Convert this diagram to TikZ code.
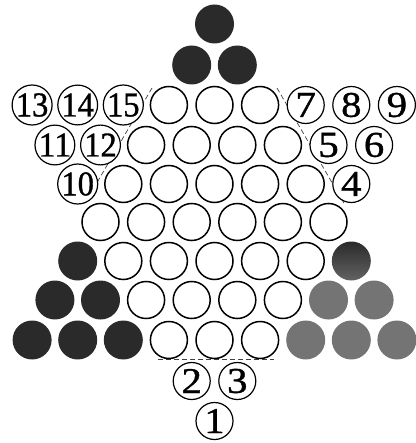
\documentclass[tikz,border=0pt]{standalone}
\usepackage{fontspec}
\setmainfont{Liberation Serif}
\newfontfamily\numfont[FakeBold=1]{Liberation Serif}
\definecolor{blk}{HTML}{2A2A2A}
\definecolor{gry}{HTML}{747474}
\newcommand{\dg}[1]{\resizebox{32.5pt}{23pt}{#1}}
\newcommand{\sg}[1]{\resizebox{!}{24pt}{\scalebox{1.12}[1]{#1}}}
\begin{document}
\begin{tikzpicture}[x=1pt,y=-1pt,
  emp/.style={circle,draw=black,line width=1.5pt,fill=white,minimum size=37pt,inner sep=0pt},
  num/.style={circle,draw=black,line width=1.2pt,fill=white,minimum size=37pt,inner sep=0pt,font=\numfont},
  dk/.style={circle,fill=blk,minimum size=39pt,inner sep=0pt},
  gr/.style={circle,fill=gry,minimum size=39pt,inner sep=0pt},
  sh/.style={circle,top color=blk,bottom color=gry!85!black,minimum size=39pt,inner sep=0pt},
  edge/.style={draw=black!75,line width=0.7pt,dash pattern=on 5pt off 3pt}]
\useasboundingbox (0,0) rectangle (415,443);
\def\cx{214.5}\def\dx{45.6}
% dashed boundary lines (behind circles)
\coordinate (l1) at (152,88); \coordinate (l2) at (84,205);
\coordinate (r1) at (277,88); \coordinate (r2) at (345,205);
\coordinate (b1) at (158,359); \coordinate (b2) at (274,359);
\draw[edge] (l1) -- (l2);
\draw[edge] (r1) -- (r2);
\draw[edge] (b1) -- (b2);
% row 0 and 1
\node[dk] (t0) at (\cx,24) {};
\node[dk] (t1) at (\cx-0.5*\dx,65) {};
\node[dk] (t2) at (\cx+0.5*\dx,65) {};
% row 2
\node[num] (n13) at (\cx-4*\dx,105) {\dg{13}};
\node[num] (n14) at (\cx-3*\dx,105) {\dg{14}};
\node[num] (n15) at (\cx-2*\dx,105) {\dg{15}};
\foreach \k in {-1,0,1} \node[emp] (a\k) at (\cx+\k*\dx,105) {};
\node[num] (n7) at (\cx+2*\dx,105) {\sg{7}};
\node[num] (n8) at (\cx+3*\dx,105) {\sg{8}};
\node[num] (n9) at (\cx+4*\dx,105) {\sg{9}};
% row 3
\node[num] (n11) at (\cx-3.5*\dx,145) {\dg{11}};
\node[num] (n12) at (\cx-2.5*\dx,145) {\dg{12}};
\foreach \k in {-1.5,-0.5,0.5,1.5} \node[emp] (b\k) at (\cx+\k*\dx,145) {};
\node[num] (n5) at (\cx+2.5*\dx,145) {\sg{5}};
\node[num] (n6) at (\cx+3.5*\dx,145) {\sg{6}};
% row 4
\node[num] (n10) at (\cx-3*\dx,184) {\dg{10}};
\foreach \k in {-2,-1,0,1,2} \node[emp] (c\k) at (\cx+\k*\dx,184) {};
\node[num] (n4) at (\cx+3*\dx,184) {\sg{4}};
% row 5
\foreach \k in {-2.5,-1.5,-0.5,0.5,1.5,2.5} \node[emp] (d\k) at (\cx+\k*\dx,222) {};
% row 6
\node[dk] (e0) at (\cx-3*\dx,261) {};
\foreach \k in {-2,-1,0,1,2} \node[emp] (e\k) at (\cx+\k*\dx,261) {};
\node[sh] (e9) at (\cx+3*\dx,261) {};
% row 7
\node[dk] (f0) at (\cx-3.5*\dx,300) {};
\node[dk] (f1) at (\cx-2.5*\dx,300) {};
\foreach \k in {-1.5,-0.5,0.5,1.5} \node[emp] (f\k) at (\cx+\k*\dx,300) {};
\node[gr] (f8) at (\cx+2.5*\dx,300) {};
\node[gr] (f9) at (\cx+3.5*\dx,300) {};
% row 8
\node[dk] (g0) at (\cx-4*\dx,340) {};
\node[dk] (g1) at (\cx-3*\dx,340) {};
\node[dk] (g2) at (\cx-2*\dx,340) {};
\foreach \k in {-1,0,1} \node[emp] (g\k) at (\cx+\k*\dx,340) {};
\node[gr] (g7) at (\cx+2*\dx,340) {};
\node[gr] (g8) at (\cx+3*\dx,340) {};
\node[gr] (g9) at (\cx+4*\dx,340) {};
% rows 9, 10
\node[num] (n2) at (\cx-0.5*\dx,381) {\sg{2}};
\node[num] (n3) at (\cx+0.5*\dx,381) {\sg{3}};
\node[num] (n1) at (\cx,421) {\sg{1}};
\end{tikzpicture}
\end{document}
